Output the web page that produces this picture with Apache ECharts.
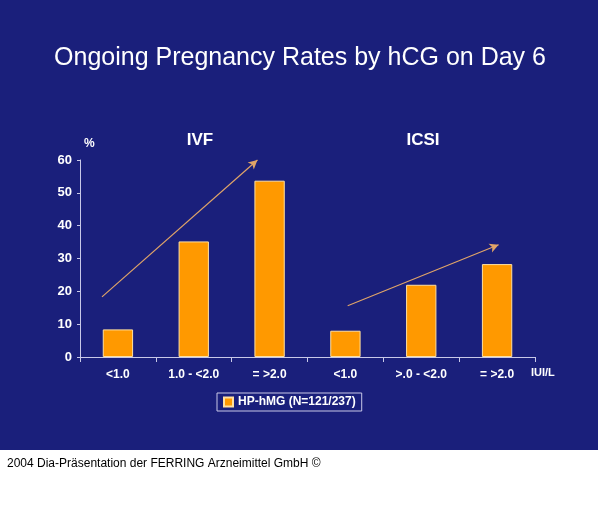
<!DOCTYPE html>
<html>
<head>
<meta charset="utf-8">
<script src="https://cdn.jsdelivr.net/npm/echarts@6/dist/echarts.min.js"></script>
<style>
  html, body { margin: 0; padding: 0; background: #fff; }
  #chart { width: 600px; height: 512px; }
</style>
</head>
<body>
<div id="chart"></div>
<script>
"use strict";

// data
const categories = ["<1.0", "1.0 - <2.0", "= >2.0", "<1.0", ">.0 - <2.0", "= >2.0"];
const rates = [8.4, 35.2, 53.7, 8.0, 22.0, 28.3];
const yTicks = [0, 10, 20, 30, 40, 50, 60];
const seriesName = "HP-hMG (N=121/237)";
// trend arrows, [x, y] in (category-slot, %) units: start, end
const ivfArrow = [[0.29, 18.3], [2.34, 60]];
const icsiArrow = [[3.53, 15.6], [5.52, 34.2]];

const FONT = "'Liberation Sans', Arial, sans-serif";
const BLUE = "#1a1f7b";
const INK = "#ffffff";
const AXIS = "#c8c8e8";
const ORANGE = "#ff9900";

const arrowLine = (pts) => [{ coord: pts[0] }, { coord: pts[1] }];

const chart = echarts.init(document.getElementById("chart"), null, { renderer: "canvas" });
chart.setOption({
  animation: false,
  backgroundColor: "#ffffff",
  textStyle: { fontFamily: FONT },
  graphic: [
    { type: "rect", z: -10, shape: { x: 0, y: 0, width: 598, height: 450 }, style: { fill: BLUE } },
  ],
  title: [
    { text: "Ongoing Pregnancy Rates by hCG on Day 6", left: "center", top: 41,
      textStyle: { color: INK, fontSize: 25, fontWeight: "normal", fontFamily: FONT } },
    { text: "IVF", left: 195, top: 127, textAlign: "center",
      textStyle: { color: INK, fontSize: 17, fontWeight: "bold", fontFamily: FONT } },
    { text: "ICSI", left: 418, top: 127, textAlign: "center",
      textStyle: { color: INK, fontSize: 17, fontWeight: "bold", fontFamily: FONT } },
    { text: "2004 Dia-Präsentation der FERRING Arzneimittel GmbH ©", left: 2, top: 453,
      textStyle: { color: "#000", fontSize: 12, fontWeight: "normal", fontFamily: FONT } },
  ],
  legend: {
    data: [seriesName],
    left: 217, top: 393, width: 147,
    padding: [3, 6, 3, 6],
    borderColor: AXIS, borderWidth: 1,
    icon: "rect", itemWidth: 9, itemHeight: 9, itemGap: 4,
    textStyle: { color: INK, fontSize: 12, fontWeight: "bold", fontFamily: FONT },
  },
  grid: { left: 80, right: 65, top: 160, bottom: 155 },
  xAxis: [
    {
      type: "category", data: categories,
      name: "IUI/L", nameLocation: "end", nameGap: -4,
      nameTextStyle: { color: INK, fontSize: 11, fontWeight: "bold", fontFamily: FONT,
        verticalAlign: "top", padding: [10, 0, 0, 0] },
      axisLine: { lineStyle: { color: AXIS, width: 1 } },
      axisTick: { show: true, length: 5, lineStyle: { color: AXIS } },
      axisLabel: { color: INK, fontSize: 12, fontWeight: "bold", fontFamily: FONT, margin: 12, interval: 0 },
    },
    { type: "value", min: 0, max: 6, show: false },
  ],
  yAxis: {
    type: "value", min: yTicks[0], max: yTicks[yTicks.length - 1], interval: 10,
    name: "%", nameLocation: "end", nameGap: 10,
    nameTextStyle: { color: INK, fontSize: 12, fontWeight: "bold", fontFamily: FONT, align: "left", padding: [0, 0, 0, 4] },
    axisLine: { show: true, lineStyle: { color: AXIS, width: 1 } },
    axisTick: { show: true, length: 3, lineStyle: { color: AXIS } },
    splitLine: { show: false },
    axisLabel: { color: INK, fontSize: 13, fontWeight: "bold", fontFamily: FONT, margin: 8 },
  },
  series: [
    {
      name: seriesName, type: "bar", data: rates, barWidth: "40%",
      itemStyle: { color: ORANGE, borderColor: "#ffe0a0", borderWidth: 1 },
    },
    {
      type: "line", xAxisIndex: 1, data: [], silent: true,
      markLine: {
        silent: true, animation: false,
        symbol: ["none", "arrow"], symbolSize: [7, 9],
        label: { show: false },
        lineStyle: { color: "#e0a468", width: 1.2, type: "solid" },
        data: [arrowLine(ivfArrow), arrowLine(icsiArrow)],
      },
    },
  ],
});
</script>
</body>
</html>
